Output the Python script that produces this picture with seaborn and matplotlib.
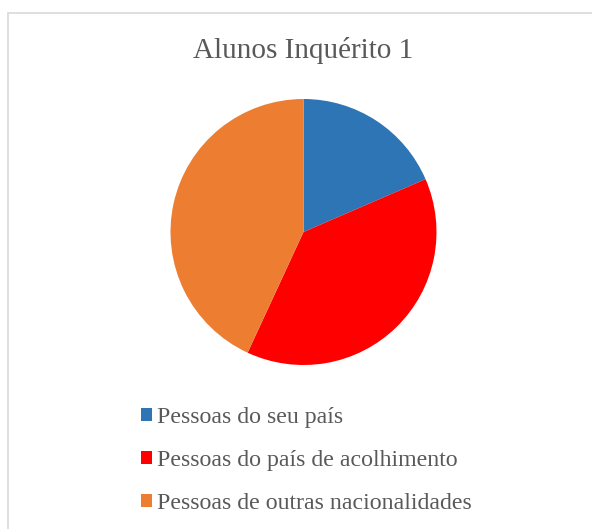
import matplotlib
matplotlib.use("Agg")
import matplotlib.pyplot as plt
import matplotlib.patches as mpatches
import seaborn as sns

# data
labels = ["Pessoas do seu país", "Pessoas do país de acolhimento", "Pessoas de outras nacionalidades"]
values = [18.5, 38.4, 43.1]
colors = ["#2E75B6", "#FF0000", "#ED7D31"]
title = "Alunos Inquérito 1"

sns.set_theme(style="white")
plt.rcParams['font.family'] = ['Liberation Serif', 'DejaVu Serif']

W, H = 592, 529
fig = plt.figure(figsize=(W / 100, H / 100), dpi=100)

# chart border (runs off the right/bottom edges like the original)
fig.patches.append(mpatches.Rectangle((7.5 / W, -0.05), 1.2, 1 - 12.5 / H + 0.05,
                                      transform=fig.transFigure, fill=False,
                                      edgecolor="#d9d9d9", linewidth=1.2))

cx, cy, r = 303.5, 232, 133
ax = fig.add_axes([(cx - r) / W, 1 - (cy + r) / H, 2 * r / W, 2 * r / H])
wedges, _ = ax.pie(values, colors=colors, startangle=90, counterclock=False,
                   radius=1, wedgeprops=dict(linewidth=0))
ax.set_xlim(-1, 1)
ax.set_ylim(-1, 1)
ax.axis("off")

fig.text(303 / W, 1 - 51 / H, title, ha="center", va="center",
         fontsize=21, color="#595959")

leg = fig.legend(wedges, labels, loc="upper left",
                 bbox_to_anchor=(129 / W, 1 - 395 / H),
                 frameon=False, fontsize=17.2, labelcolor="#595959",
                 handlelength=0.47, handleheight=0.47, handletextpad=0.22,
                 labelspacing=0.93, borderpad=0)

fig.savefig("out.png", dpi=100)
